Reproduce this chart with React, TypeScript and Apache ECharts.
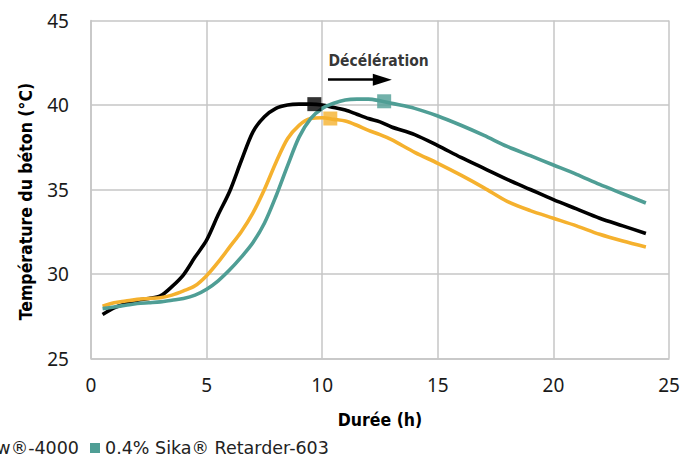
import React, { useEffect, useRef } from "react";
import * as echarts from "echarts";

const hours = [0.5, 1, 1.5, 2, 2.5, 3, 3.5, 4, 4.5, 5, 5.5, 6, 6.5, 7, 7.5, 8, 8.5, 9, 9.5, 10, 10.5, 11, 11.5, 12, 12.5, 13, 14, 15, 16, 17, 18, 19, 20, 21, 22, 23, 24];

const reference = [27.6, 28.0, 28.25, 28.45, 28.55, 28.7, 29.25, 29.95, 31.0, 32.0, 33.5, 34.9, 36.7, 38.4, 39.3, 39.8, 40.0, 40.05, 40.05, 40.0, 39.85, 39.7, 39.45, 39.2, 39.0, 38.7, 38.25, 37.6, 36.9, 36.25, 35.6, 35.0, 34.4, 33.85, 33.3, 32.85, 32.4];
const viscoflow = [28.1, 28.3, 28.4, 28.5, 28.55, 28.6, 28.75, 29.0, 29.3, 29.9, 30.7, 31.6, 32.5, 33.6, 35.0, 36.6, 38.0, 38.8, 39.2, 39.25, 39.15, 39.05, 38.8, 38.5, 38.25, 37.95, 37.2, 36.55, 35.85, 35.1, 34.3, 33.75, 33.3, 32.85, 32.35, 31.95, 31.6];
const retarder = [27.95, 28.05, 28.15, 28.25, 28.3, 28.35, 28.45, 28.55, 28.75, 29.1, 29.6, 30.25, 31.0, 31.85, 33.0, 34.6, 36.4, 38.1, 39.2, 39.8, 40.1, 40.3, 40.35, 40.35, 40.25, 40.1, 39.8, 39.35, 38.8, 38.2, 37.55, 37.0, 36.45, 35.9, 35.3, 34.75, 34.2];

const peakReference = [9.66, 40.05];
const peakViscoflow = [10.35, 39.2];
const peakRetarder = [12.68, 40.22];

const decelStart = [10.25, 41.5];
const decelEnd = [12.6, 41.5];
const decelLabelAt = [10.25, 42.62];

const seriesNames = ["Référence", "0.2% Sika® ViscoFlow®-4000", "0.4% Sika® Retarder-603"];
const seriesColors = ["#000000", "#F5B12E", "#4F9E95"];

const xTicks = { min: 0, max: 25, interval: 5 };
const yTicks = { min: 25, max: 45, interval: 5 };

const titleFont = "'DejaVu Sans Condensed', 'DejaVu Sans', sans-serif";
const legendFont = "'DejaVu Sans', sans-serif";
const tickFont = "'Noto Sans', sans-serif";

const LEGEND_SIZE = 17.5;
const LEGEND_ICON = 10;
const LEGEND_GAP = 8;

function measure(text: string, font: string) {
  const c = document.createElement("canvas").getContext("2d");
  if (!c) return text.length * 9;
  c.font = font;
  return c.measureText(text).width;
}

export default function App() {
  const ref = useRef<HTMLDivElement>(null);
  useEffect(() => {
    document.body.style.margin = "0";
    if (!ref.current) return;
    const chart = echarts.init(ref.current, undefined, { renderer: "svg" });
    const pair = (arr: number[]) => hours.map((h, i) => [h, arr[i]]);
    const lineData = [reference, viscoflow, retarder];
    const peaks = [peakReference, peakViscoflow, peakRetarder];
    const gridColor = "#C6C6C6";
    const legendCss = `${LEGEND_SIZE}px ${legendFont}`;
    const hiddenItems = [seriesNames[0], seriesNames[1]];
    const hiddenWidth =
      hiddenItems.reduce((s, n) => s + LEGEND_ICON + 5 + measure(n, legendCss), 0) +
      LEGEND_GAP * (hiddenItems.length - 1);
    const legendText = { fontFamily: legendFont, fontSize: LEGEND_SIZE, color: "#222" };
    chart.setOption({
      animation: false,
      grid: { left: 91, right: 27, top: 20.5, bottom: 109.5 },
      legend: [
        {
          data: [seriesNames[2]],
          left: 90,
          top: 439,
          padding: 0,
          icon: "rect",
          itemWidth: LEGEND_ICON,
          itemHeight: LEGEND_ICON,
          textStyle: legendText,
        },
        {
          data: hiddenItems,
          left: 79 - hiddenWidth,
          width: hiddenWidth + 40,
          top: 439,
          padding: 0,
          icon: "rect",
          itemWidth: LEGEND_ICON,
          itemHeight: LEGEND_ICON,
          itemGap: LEGEND_GAP,
          textStyle: legendText,
        },
      ],
      xAxis: {
        type: "value",
        min: xTicks.min,
        max: xTicks.max,
        interval: xTicks.interval,
        name: "Durée (h)",
        nameLocation: "middle",
        nameGap: 52,
        nameTextStyle: { fontFamily: titleFont, fontWeight: "bold", fontSize: 17.5, color: "#000" },
        axisLine: { show: true, lineStyle: { color: gridColor, width: 1.5 } },
        axisTick: { show: false },
        axisLabel: { fontFamily: tickFont, fontSize: 19, color: "#1a1a1a", margin: 17 },
        splitLine: { show: true, lineStyle: { color: gridColor, width: 1.5 } },
      },
      yAxis: {
        type: "value",
        min: yTicks.min,
        max: yTicks.max,
        interval: yTicks.interval,
        name: "Température du béton (°C)",
        nameLocation: "middle",
        nameGap: 56,
        nameTextStyle: { fontFamily: titleFont, fontWeight: "bold", fontSize: 17.5, color: "#000", padding: [0, 24, 0, 0] },
        axisLine: { show: true, lineStyle: { color: gridColor, width: 1.5 } },
        axisTick: { show: false },
        axisLabel: { fontFamily: tickFont, fontSize: 19, color: "#1a1a1a", margin: 22 },
        splitLine: { show: true, lineStyle: { color: gridColor, width: 1.5 } },
      },
      series: [
        ...lineData.map((arr, i) => ({
          name: seriesNames[i],
          type: "line",
          data: pair(arr),
          showSymbol: false,
          symbol: "none",
          smooth: 0.3,
          color: seriesColors[i],
          lineStyle: { color: seriesColors[i], width: 3.6 },
          z: 2 + i,
        })),
        ...peaks.map((p, i) => ({
          name: seriesNames[i] + " peak",
          type: "scatter",
          data: [p],
          symbol: "rect",
          symbolSize: 14,
          itemStyle: { color: seriesColors[i] },
          z: 10,
          silent: true,
        })),
        {
          name: "decel",
          type: "scatter",
          data: [decelLabelAt],
          symbolSize: 1,
          itemStyle: { color: "rgba(0,0,0,0)" },
          silent: true,
          label: {
            show: true,
            position: "right",
            distance: 0,
            formatter: "Décélération",
            fontFamily: titleFont,
            fontWeight: "bold",
            fontSize: 15.5,
            color: "#000",
          },
          markLine: {
            silent: true,
            symbol: ["none", "triangle"],
            symbolSize: [12, 19],
            label: { show: false },
            lineStyle: { color: "#000", width: 2.5, type: "solid" },
            data: [[{ coord: decelStart }, { coord: decelEnd }]],
          },
        },
      ],
    });
    return () => chart.dispose();
  }, []);
  return <div ref={ref} style={{ width: 696, height: 468 }} />;
}
